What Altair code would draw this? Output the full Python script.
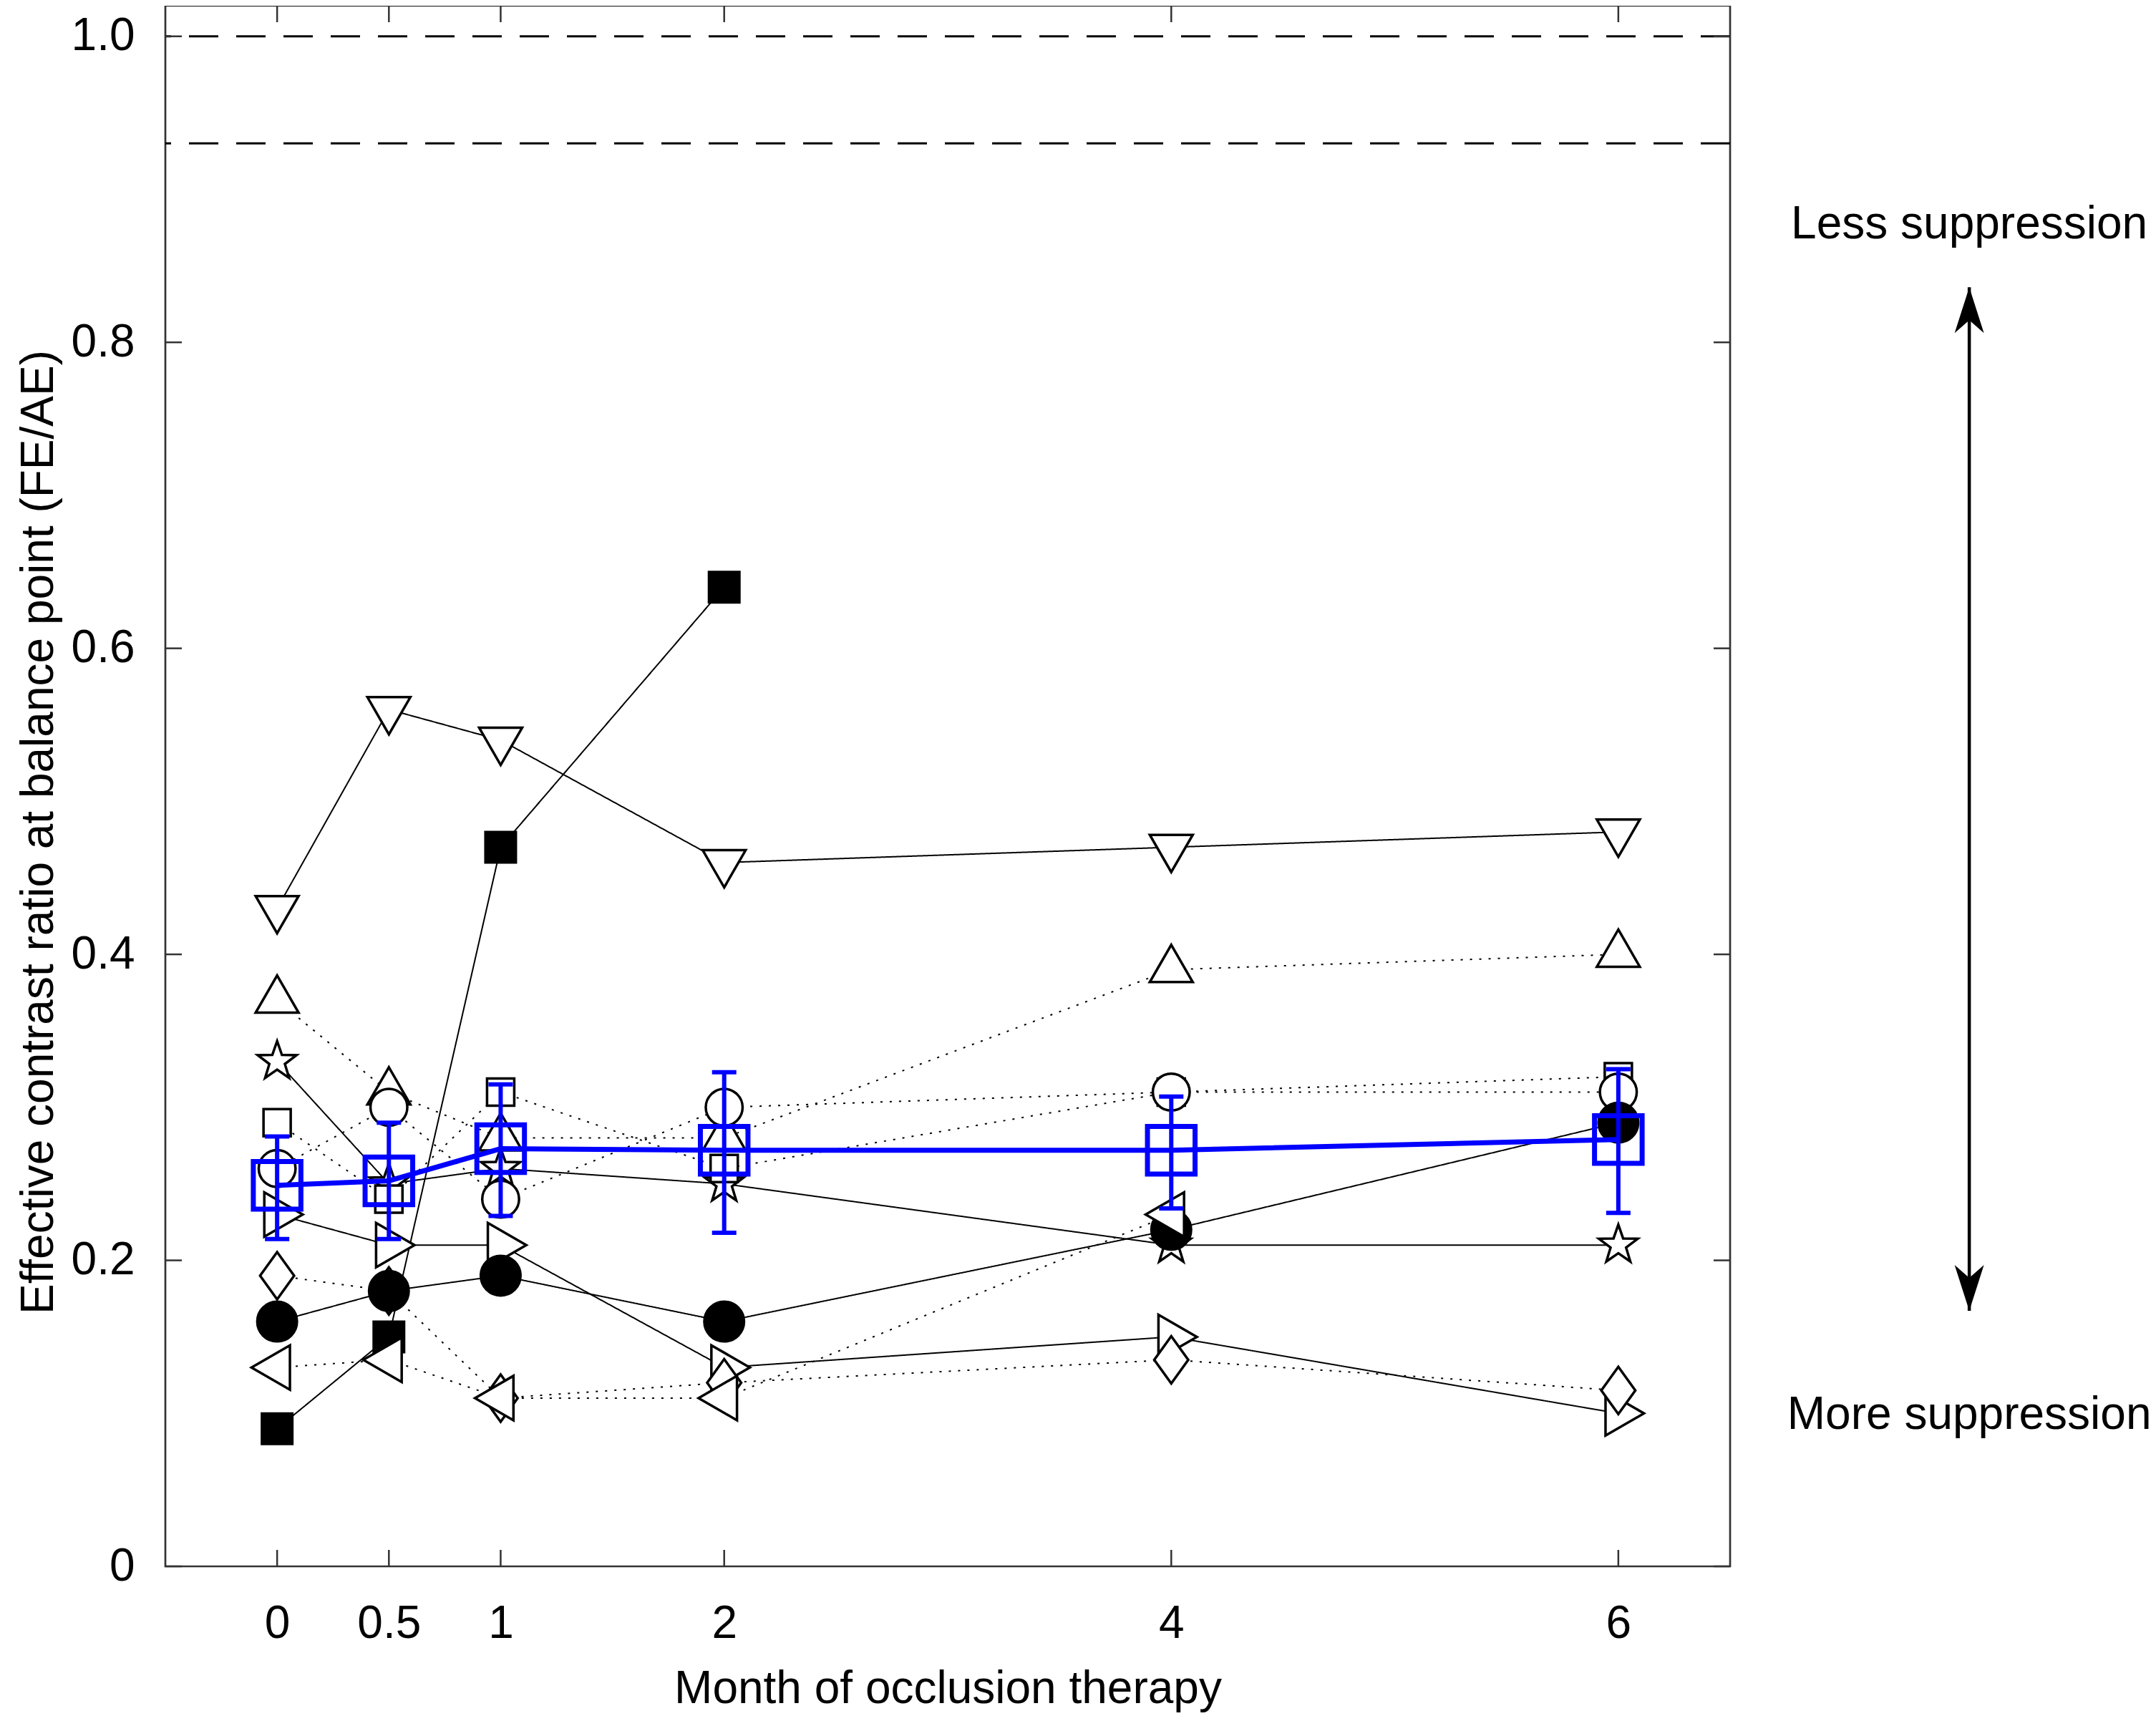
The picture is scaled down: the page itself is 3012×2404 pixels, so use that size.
import altair as alt
import pandas as pd

# ---------------- data ----------------
months = [0, 0.5, 1, 2, 4, 6]
x_tick_values = [0, 0.5, 1, 2, 4, 6]
y_tick_values = [0, 0.2, 0.4, 0.6, 0.8, 1.0]

s_down_tri = [0.43, 0.56, 0.54, 0.46, 0.47, 0.48]
s_filled_sq_months = [0, 0.5, 1, 2]
s_filled_sq = [0.09, 0.15, 0.47, 0.64]
s_up_tri = [0.37, 0.31, 0.28, 0.28, 0.39, 0.40]
s_star = [0.33, 0.25, 0.26, 0.25, 0.21, 0.21]
s_open_sq = [0.29, 0.24, 0.31, 0.26, 0.31, 0.32]
s_open_circle = [0.26, 0.30, 0.24, 0.30, 0.31, 0.31]
s_right_tri = [0.23, 0.21, 0.21, 0.13, 0.15, 0.10]
s_diamond = [0.19, 0.18, 0.11, 0.12, 0.135, 0.115]
s_filled_circle = [0.16, 0.18, 0.19, 0.16, 0.22, 0.29]
s_left_tri_months = [0, 0.5, 1, 2, 4]
s_left_tri = [0.13, 0.135, 0.11, 0.11, 0.23]

mean_values = [0.249, 0.252, 0.273, 0.272, 0.272, 0.279]
mean_low = [0.214, 0.214, 0.229, 0.218, 0.234, 0.231]
mean_high = [0.281, 0.290, 0.315, 0.323, 0.307, 0.325]

ref_lines = [1.0, 0.93]
annotation_texts = ["Less suppression", "More suppression"]
annotation_values = [0.868, 0.09]
annotation_month = 7.57
arrow_top = 0.836
arrow_bottom = 0.167

# ---------------- styles ----------------
UP = "M0,-1.155L1,0.577L-1,0.577Z"
DOWN = "M0,1.155L1,-0.577L-1,-0.577Z"
RIGHT = "M1.155,0L-0.577,1L-0.577,-1Z"
LEFT = "M-1.155,0L0.577,1L0.577,-1Z"
DIAMOND = "M0,-1L0.72,0L0,1L-0.72,0Z"
STAR = ("M0,-1L0.235,-0.324L0.951,-0.309L0.38,0.124L0.588,0.809L0,0.4"
        "L-0.588,0.809L-0.38,0.124L-0.951,-0.309L-0.235,-0.324Z")
HEAD_UP = "M0,0L0.64,2L0,1.44L-0.64,2Z"
HEAD_DOWN = "M0,0L0.64,-2L0,-1.44L-0.64,-2Z"

subjects = [
    ("down_tri", months, s_down_tri, DOWN, "white", 3600, "solid"),
    ("filled_sq", s_filled_sq_months, s_filled_sq, "square", "black", 1806, "solid"),
    ("up_tri", months, s_up_tri, UP, "white", 3600, "dotted"),
    ("star", months, s_star, STAR, "white", 3249, "solid"),
    ("open_sq", months, s_open_sq, "square", "white", 1444, "dotted"),
    ("open_circle", months, s_open_circle, "circle", "white", 2650, "dotted"),
    ("right_tri", months, s_right_tri, RIGHT, "white", 3844, "solid"),
    ("diamond", months, s_diamond, DIAMOND, "white", 4356, "dotted"),
    ("filled_circle", months, s_filled_circle, "circle", "black", 3080, "solid"),
    ("left_tri", s_left_tri_months, s_left_tri, LEFT, "white", 3844, "dotted"),
]

rows = []
for order, (name, ms, vals, shape, fill, size, dash) in enumerate(subjects):
    for m, v in zip(ms, vals):
        rows.append(dict(subject=name, order=order, month=m, value=v,
                         shape=shape, fill=fill, size=size, dash=dash))
df = pd.DataFrame(rows)

df_mean = pd.DataFrame(dict(month=months, mean=mean_values,
                            low=mean_low, high=mean_high))
df_ref = pd.DataFrame(dict(value=ref_lines))
df_xt = pd.DataFrame(dict(v=x_tick_values))
df_yt = pd.DataFrame(dict(v=y_tick_values))
df_ann = pd.DataFrame(dict(text=annotation_texts, value=annotation_values,
                           month=[annotation_month] * 2))
df_arrow = pd.DataFrame(dict(month=[annotation_month], top=[arrow_top],
                             bottom=[arrow_bottom]))
df_heads = pd.DataFrame(dict(month=[annotation_month] * 2,
                             value=[arrow_top, arrow_bottom],
                             shape=[HEAD_UP, HEAD_DOWN]))

W, H = 2186, 2180
FONT = "Liberation Sans"
FS = 64
BLUE = "#0000ff"
TICK = 23

xs = alt.Scale(domain=[-0.5, 6.5], nice=False, zero=False)
ys = alt.Scale(domain=[0, 1.02], nice=False, zero=False)

x_axis = alt.Axis(values=x_tick_values, format="~g", ticks=False, tickSize=0,
                  domain=False, grid=False, labelFont=FONT, labelFontSize=FS,
                  labelColor="black", labelBaseline="alphabetic",
                  labelPadding=99, title="Month of occlusion therapy",
                  titleFont=FONT, titleFontSize=FS, titleFontWeight="normal",
                  titleColor="black", titleBaseline="alphabetic", titleY=190)
y_axis = alt.Axis(values=y_tick_values,
                  labelExpr="datum.value == 0 ? '0' : format(datum.value, '.1f')",
                  ticks=False, tickSize=0, domain=False, grid=False,
                  labelFont=FONT, labelFontSize=FS, labelColor="black",
                  labelPadding=43, labelAlign="right",
                  title="Effective contrast ratio at balance point (FE/AE)",
                  titleFont=FONT, titleFontSize=FS, titleFontWeight="normal",
                  titleColor="black", titleAngle=270, titleAlign="center",
                  titleBaseline="alphabetic", titleX=-158, titleY=1154)

X = alt.X("month:Q", scale=xs, axis=x_axis)
Y = alt.Y("value:Q", scale=ys, axis=y_axis)

refs = alt.Chart(df_ref).mark_rule(color="black", strokeWidth=3,
                                   strokeDash=[41, 25]).encode(
    y=alt.Y("value:Q", scale=ys))

ticks_left = alt.Chart(df_yt).mark_rule(color="#333333", strokeWidth=2.5).encode(
    y=alt.Y("v:Q", scale=ys), x=alt.value(0), x2=alt.value(TICK))
ticks_right = alt.Chart(df_yt).mark_rule(color="#333333", strokeWidth=2.5).encode(
    y=alt.Y("v:Q", scale=ys), x=alt.value(W - TICK), x2=alt.value(W))
ticks_bottom = alt.Chart(df_xt).mark_rule(color="#333333", strokeWidth=2.5).encode(
    x=alt.X("v:Q", scale=xs), y=alt.value(H), y2=alt.value(H - TICK))
ticks_top = alt.Chart(df_xt).mark_rule(color="#333333", strokeWidth=2.5).encode(
    x=alt.X("v:Q", scale=xs), y=alt.value(0), y2=alt.value(TICK))

lines = alt.Chart(df).mark_line(color="black", strokeWidth=2).encode(
    x=X, y=Y, detail="subject:N",
    strokeDash=alt.StrokeDash("dash:N", scale=alt.Scale(
        domain=["solid", "dotted"], range=[[1, 0], [3, 10]]), legend=None))

points = alt.Chart(df).mark_point(filled=True, opacity=1, stroke="black",
                                  strokeWidth=3.5).encode(
    x=alt.X("month:Q", scale=xs), y=alt.Y("value:Q", scale=ys),
    shape=alt.Shape("shape:N", scale=None),
    fill=alt.Fill("fill:N", scale=None),
    size=alt.Size("size:Q", scale=None),
    order=alt.Order("order:Q"))

err = alt.Chart(df_mean).mark_rule(color=BLUE, strokeWidth=6).encode(
    x=alt.X("month:Q", scale=xs), y=alt.Y("low:Q", scale=ys), y2="high:Q")
cap_lo = alt.Chart(df_mean).mark_tick(orient="horizontal", size=34, thickness=6,
                                      color=BLUE, opacity=1).encode(
    x=alt.X("month:Q", scale=xs), y=alt.Y("low:Q", scale=ys))
cap_hi = alt.Chart(df_mean).mark_tick(orient="horizontal", size=34, thickness=6,
                                      color=BLUE, opacity=1).encode(
    x=alt.X("month:Q", scale=xs), y=alt.Y("high:Q", scale=ys))
mean_line = alt.Chart(df_mean).mark_line(color=BLUE, strokeWidth=7).encode(
    x=alt.X("month:Q", scale=xs), y=alt.Y("mean:Q", scale=ys))
mean_pts = alt.Chart(df_mean).mark_point(shape="square", size=4422, filled=False,
                                         stroke=BLUE, strokeWidth=7,
                                         opacity=1).encode(
    x=alt.X("month:Q", scale=xs), y=alt.Y("mean:Q", scale=ys))

ann = alt.Chart(df_ann).mark_text(font=FONT, fontSize=FS, color="black",
                                  align="center", baseline="alphabetic").encode(
    x=alt.X("month:Q", scale=xs), y=alt.Y("value:Q", scale=ys), text="text:N")
shaft = alt.Chart(df_arrow).mark_rule(color="black", strokeWidth=4.5).encode(
    x=alt.X("month:Q", scale=xs), y=alt.Y("top:Q", scale=ys), y2="bottom:Q")
heads = alt.Chart(df_heads).mark_point(filled=True, opacity=1, color="black",
                                       size=4096).encode(
    x=alt.X("month:Q", scale=xs), y=alt.Y("value:Q", scale=ys),
    shape=alt.Shape("shape:N", scale=None))

chart = alt.layer(
    refs, ticks_left, ticks_right, ticks_bottom, ticks_top,
    lines, points, err, cap_lo, cap_hi, mean_line, mean_pts,
    ann, shaft, heads,
).properties(
    width=W, height=H,
    padding={"left": 223, "top": 0, "right": 587, "bottom": 216},
    autosize=alt.AutoSizeParams(type="none"),
    background="white",
).configure_view(stroke="#333333", strokeWidth=2.7)

chart.save("out.html", embed_options={"renderer": "svg", "actions": False})
